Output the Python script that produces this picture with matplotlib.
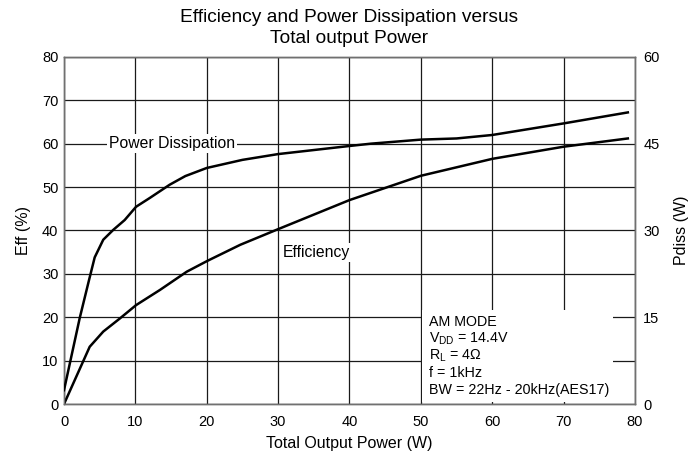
import numpy as np
import matplotlib
matplotlib.use("Agg")
import matplotlib.pyplot as plt
from matplotlib.patches import Rectangle

plt.rcParams['font.family'] = ['Liberation Sans', 'DejaVu Sans']

# efficiency (%) vs total output power (W)
eff_x = [0, 3.6, 5.5, 7.85, 10.1, 13.45, 17.2, 20.1, 24.7, 30, 40, 50, 60, 70, 79]
eff_y = [0, 13.2, 16.7, 19.75, 22.8, 26.3, 30.5, 33.0, 36.7, 40.3, 47.0, 52.6, 56.5, 59.3, 61.2]

# power dissipation (W) vs total output power (W)
pd_x = [0, 2.2, 3.5, 4.3, 5.5, 6.9, 8.5, 10.1, 12, 14.8, 17, 20, 25, 30, 40, 43, 50, 55, 60, 70, 79]
pd_y = [2.4, 14.85, 21.4, 25.35, 28.4, 30.1, 31.8, 34.1, 35.6, 37.9, 39.4, 40.8, 42.2, 43.2,
        44.6, 45.0, 45.7, 45.9, 46.5, 48.5, 50.4]

x_ticks = [0, 10, 20, 30, 40, 50, 60, 70, 80]
eff_ticks = [0, 10, 20, 30, 40, 50, 60, 70, 80]
pd_ticks = [0, 15, 30, 45, 60]

note_lines = ["AM MODE",
              r"V$_{\mathregular{DD}}$ = 14.4V",
              r"R$_{\mathregular{L}}$ = 4$\mathregular{\Omega}$",
              "f = 1kHz",
              "BW = 22Hz - 20kHz(AES17)"]

fig = plt.figure(figsize=(6.98, 4.55), dpi=100)
ax = fig.add_axes([0.0917, 0.112, 0.818, 0.763])
ax2 = ax.twinx()

ax.set_xlim(0, 80)
ax.set_ylim(0, 80)
ax2.set_ylim(0, 60)
ax.set_xticks(x_ticks)
ax.set_yticks(eff_ticks)
ax2.set_yticks(pd_ticks)
ax.tick_params(axis='y', length=0, labelsize=10.5, pad=4)
ax.tick_params(axis='x', length=0, labelsize=10.5, pad=8)
ax2.tick_params(length=0, labelsize=10.5, pad=6)

ax.grid(True, color='#1a1a1a', linewidth=0.9)
ax.set_axisbelow(True)
for a in (ax, ax2):
    for s in a.spines.values():
        s.set_color('#707070')
        s.set_linewidth(1.0)

# white panel behind the test conditions
ax.add_patch(Rectangle((50.15, 0.4), 26.8, 21.3, facecolor='white',
                       edgecolor='none', zorder=1.5))

ax.plot(eff_x, eff_y, color='black', linewidth=1.8, zorder=3)
ax2.plot(pd_x, pd_y, color='black', linewidth=1.8, zorder=3)

ax.text(15.1, 60, "Power Dissipation", ha='center', va='center', fontsize=11.3,
        bbox=dict(facecolor='white', edgecolor='none', pad=1.5), zorder=2)
ax.text(35.4, 35, "Efficiency", ha='center', va='center', fontsize=11.3,
        bbox=dict(facecolor='white', edgecolor='none', pad=1.5), zorder=2)

for i, line in enumerate(note_lines):
    ax.text(51.15, 19.0 - i * 3.95, line, ha='left', va='center', fontsize=10.3, zorder=2)

ax.set_xlabel("Total Output Power (W)", fontsize=11.5, labelpad=5)
ax.set_ylabel("Eff (%)", fontsize=11.5, labelpad=8)
ax2.set_ylabel("Pdiss (W)", fontsize=11.5, labelpad=10)
ax.set_title("Efficiency and Power Dissipation versus\nTotal output Power",
             fontsize=13.8, pad=10, linespacing=1.3)

fig.savefig("out.png", dpi=100)
